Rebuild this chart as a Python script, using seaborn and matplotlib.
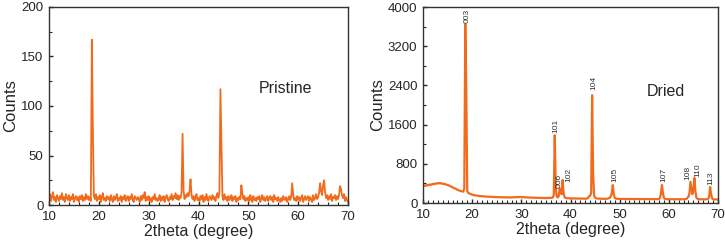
import numpy as np
import pandas as pd
import matplotlib
matplotlib.use("Agg")
import matplotlib.pyplot as plt
import seaborn as sns
from matplotlib.ticker import MultipleLocator

# 2theta grid, 10 to 70 degree in 0.2 steps
two_theta = np.round(np.linspace(10, 70, 301), 1)

# Pristine counts (10 values per row = 2 degree)
pristine_counts = [
    6, 11, 4, 9, 13, 5, 8, 3, 10, 7,
    4, 9, 6, 12, 5, 8, 3, 11, 7, 5,
    10, 4, 8, 6, 11, 3, 7, 9, 5, 8,
    3, 9, 6, 10, 4, 8, 5, 11, 6, 9,
    5, 8, 4, 167, 78, 9, 6, 11, 4, 8,
    6, 10, 3, 8, 12, 5, 7, 4, 9, 6,
    8, 4, 10, 6, 3, 9, 5, 7, 11, 4,
    7, 5, 9, 3, 8, 6, 10, 4, 7, 9,
    4, 8, 6, 11, 5, 3, 9, 7, 5, 8,
    6, 3, 9, 5, 10, 7, 13, 4, 8, 5,
    9, 4, 7, 3, 8, 6, 11, 5, 7, 4,
    6, 10, 4, 8, 5, 9, 3, 7, 10, 6,
    4, 8, 6, 11, 5, 9, 7, 12, 6, 10,
    5, 9, 7, 13, 72, 15, 6, 10, 8, 12,
    9, 14, 26, 10, 6, 9, 4, 8, 11, 5,
    7, 4, 9, 6, 10, 3, 8, 5, 11, 6,
    4, 9, 7, 5, 10, 6, 8, 4, 9, 12,
    7, 13, 117, 60, 9, 5, 11, 6, 8, 4,
    9, 5, 7, 10, 4, 8, 6, 9, 3, 7,
    5, 8, 6, 20, 12, 6, 9, 4, 7, 5,
    8, 4, 10, 6, 3, 9, 5, 7, 4, 8,
    6, 9, 3, 7, 10, 5, 8, 4, 6, 9,
    4, 7, 9, 5, 8, 3, 10, 6, 7, 4,
    8, 5, 3, 7, 4, 9, 6, 5, 8, 3,
    6, 9, 5, 8, 22, 10, 5, 7, 4, 9,
    5, 8, 4, 7, 10, 3, 6, 9, 5, 7,
    9, 4, 8, 6, 3, 10, 5, 7, 11, 6,
    8, 12, 22, 14, 10, 20, 25, 13, 7, 10,
    5, 9, 6, 11, 4, 8, 7, 10, 5, 9,
    6, 10, 19, 16, 10, 7, 11, 4, 8, 5,
    3,
]

# Dried counts
dried_counts = [
    350, 356, 348, 362, 358, 370, 366, 375, 372, 382,
    388, 384, 394, 398, 392, 404, 408, 400, 406, 398,
    394, 388, 390, 380, 374, 366, 360, 350, 342, 332,
    318, 308, 298, 288, 278, 270, 262, 254, 246, 240,
    236, 232, 300, 3650, 2350, 240, 205, 196, 188, 180,
    168, 164, 158, 155, 152, 150, 146, 144, 142, 140,
    138, 136, 134, 135, 131, 130, 128, 131, 127, 126,
    125, 122, 124, 121, 122, 119, 121, 118, 117, 119,
    117, 119, 115, 118, 114, 116, 113, 117, 112, 115,
    113, 117, 115, 119, 118, 121, 120, 123, 119, 122,
    118, 121, 116, 119, 114, 117, 112, 115, 111, 113,
    108, 111, 107, 110, 105, 109, 104, 107, 103, 106,
    103, 105, 101, 104, 100, 103, 101, 105, 102, 108,
    103, 106, 112, 160, 1385, 300, 135, 112, 140, 300,
    200, 180, 470, 190, 118, 103, 99, 96, 98, 94,
    93, 96, 92, 95, 91, 94, 90, 93, 89, 92,
    90, 88, 92, 89, 87, 91, 88, 93, 105, 140,
    150, 200, 2200, 600, 155, 108, 97, 92, 90, 88,
    89, 86, 88, 85, 87, 84, 88, 86, 89, 100,
    105, 140, 200, 367, 180, 105, 90, 87, 85, 83,
    85, 82, 84, 81, 83, 80, 84, 82, 79, 83,
    81, 84, 80, 82, 79, 83, 81, 78, 82, 80,
    79, 82, 78, 81, 77, 80, 79, 82, 78, 81,
    79, 77, 81, 78, 80, 76, 79, 81, 77, 80,
    83, 105, 200, 367, 200, 105, 85, 81, 78, 80,
    77, 79, 76, 78, 75, 79, 77, 74, 78, 76,
    77, 75, 78, 74, 77, 75, 79, 78, 85, 110,
    130, 200, 430, 300, 180, 280, 510, 240, 110, 88,
    81, 77, 75, 78, 74, 76, 73, 77, 75, 79,
    85, 130, 326, 180, 95, 77, 73, 75, 72, 74,
    70,
]

# hkl peak labels on the dried pattern
hkl_labels = ["003", "101", "006", "102", "104", "105", "107", "108", "110", "113"]
hkl_x = [18.9, 37.0, 37.7, 39.6, 44.8, 49.0, 59.0, 63.9, 65.9, 68.6]
hkl_y = [3670, 1430, 300, 430, 2300, 430, 430, 470, 530, 370]

sns.set_style("ticks")
plt.rcParams["font.family"] = ["Liberation Sans", "DejaVu Sans"]

orange = "#F26B1D"

fig = plt.figure(figsize=(7.25, 2.43), dpi=100)
ax1 = fig.add_axes([49 / 725, 38 / 243, 299 / 725, 198 / 243])
ax2 = fig.add_axes([423 / 725, 40 / 243, 295 / 725, 196 / 243])

df_p = pd.DataFrame({"two_theta": two_theta, "counts": pristine_counts})
df_d = pd.DataFrame({"two_theta": two_theta, "counts": dried_counts})

sns.lineplot(data=df_p, x="two_theta", y="counts", ax=ax1, color=orange, linewidth=1.3)
sns.lineplot(data=df_d, x="two_theta", y="counts", ax=ax2, color=orange, linewidth=1.6)

for ax in (ax1, ax2):
    ax.set_xlim(10, 70)
    ax.xaxis.set_major_locator(MultipleLocator(10))
    ax.set_xlabel("2theta (degree)", fontsize=11.5, labelpad=1)
    ax.set_ylabel("Counts", fontsize=12, labelpad=2)
    ax.tick_params(which="both", direction="in", top=False, right=False,
                   labelsize=9.5)
    ax.tick_params(axis="x", pad=4)
    ax.tick_params(axis="y", pad=4)
    ax.tick_params(which="major", length=3, width=1)
    ax.tick_params(which="minor", length=2, width=0.8)
    for s in ax.spines.values():
        s.set_color("#333333")
        s.set_linewidth(1.0)

ax1.set_ylim(0, 200)
ax1.yaxis.set_major_locator(MultipleLocator(50))
ax1.yaxis.set_minor_locator(MultipleLocator(25))
ax1.xaxis.set_minor_locator(MultipleLocator(2))
ax1.text(57.5, 118, "Pristine", fontsize=11.5, ha="center", va="center")

ax2.set_ylim(0, 4000)
ax2.yaxis.set_major_locator(MultipleLocator(800))
ax2.yaxis.set_minor_locator(MultipleLocator(400))
ax2.xaxis.set_minor_locator(MultipleLocator(1))
ax2.text(59.5, 2280, "Dried", fontsize=11.5, ha="center", va="center")

for lab, px, py in zip(hkl_labels, hkl_x, hkl_y):
    ax2.text(px, py, lab, rotation=90, fontsize=6, ha="center", va="bottom", color="#333333")

fig.savefig("out.png", dpi=100)
